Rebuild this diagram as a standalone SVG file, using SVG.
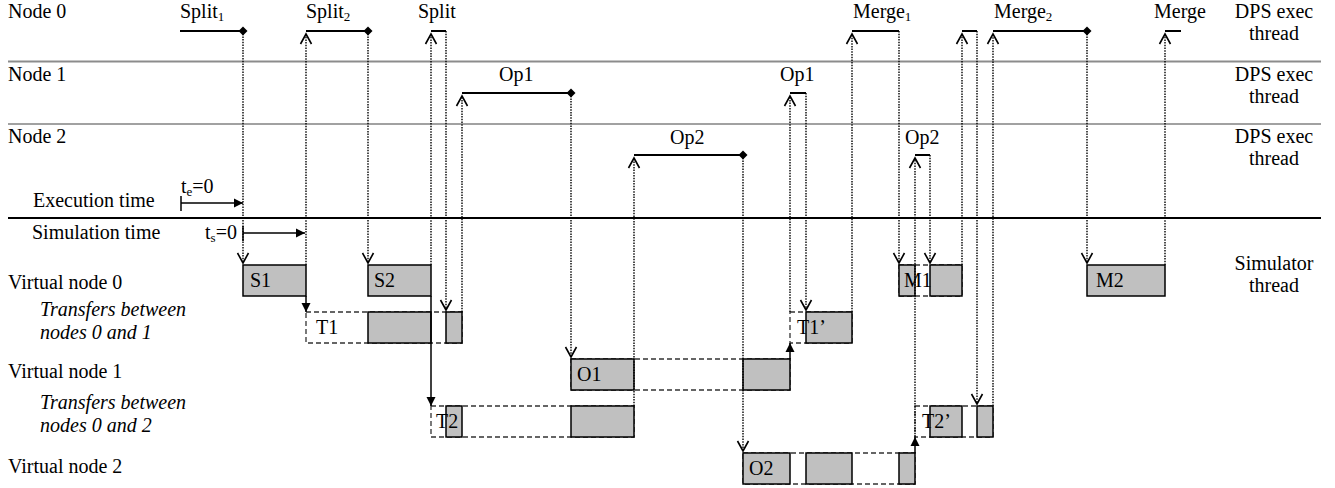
<svg xmlns="http://www.w3.org/2000/svg" width="1335" height="488" viewBox="0 0 1335 488">
<style>
.t{font-family:"Liberation Serif","Times New Roman",serif;font-size:20px;fill:#000}
.it{font-style:italic}
.sub{font-size:13px}
.g{fill:#c0c0c0;stroke:#000;stroke-width:1.5}
.d{fill:none;stroke:#333;stroke-width:1.3;stroke-dasharray:5 3}
.dot{fill:none;stroke:#000;stroke-width:1.4;stroke-dasharray:1.5 1.2}
.ev{stroke:#000;stroke-width:2;fill:none}
.sol{stroke:#000;stroke-width:1.5;fill:none}
</style>
<defs>
<marker id="chev" viewBox="-12 -7 14 14" refX="0" refY="0" markerWidth="14" markerHeight="14" markerUnits="userSpaceOnUse" orient="auto">
<path d="M-10,-5.5 L0,0 L-10,5.5" fill="none" stroke="#000" stroke-width="1.6"/>
</marker>
<marker id="tri" viewBox="-10 -6 12 12" refX="0" refY="0" markerWidth="12" markerHeight="12" markerUnits="userSpaceOnUse" orient="auto">
<path d="M-9,-4.5 L0,0 L-9,4.5 Z" fill="#000"/>
</marker>
<marker id="dia" viewBox="-6 -6 12 12" refX="0" refY="0" markerWidth="12" markerHeight="12" markerUnits="userSpaceOnUse" orient="auto">
<path d="M-4.5,0 L0,-4.5 L4.5,0 L0,4.5 Z" fill="#000"/>
</marker>
</defs>
<rect width="1335" height="488" fill="#fff"/>

<g id="lanes">
<line x1="8" y1="61.5" x2="1321" y2="61.5" stroke="#8c8c8c" stroke-width="2"/>
<line x1="8" y1="124" x2="1321" y2="124" stroke="#444" stroke-width="1.2"/>
<line x1="8" y1="218" x2="1321" y2="218" stroke="#000" stroke-width="2"/>
<text class="t" x="8" y="18">Node 0</text>
<text class="t" x="8" y="81">Node 1</text>
<text class="t" x="8" y="143">Node 2</text>
<text class="t" x="1274" y="18" text-anchor="middle">DPS exec</text>
<text class="t" x="1274" y="40" text-anchor="middle">thread</text>
<text class="t" x="1274" y="81" text-anchor="middle">DPS exec</text>
<text class="t" x="1274" y="103" text-anchor="middle">thread</text>
<text class="t" x="1274" y="143" text-anchor="middle">DPS exec</text>
<text class="t" x="1274" y="165" text-anchor="middle">thread</text>
<text class="t" x="1274" y="270" text-anchor="middle">Simulator</text>
<text class="t" x="1274" y="292" text-anchor="middle">thread</text>
<text class="t" x="33" y="207">Execution time</text>
<text class="t" x="32" y="239">Simulation time</text>
<text class="t" x="8" y="289">Virtual node 0</text>
<text class="t it" x="40" y="316">Transfers between</text>
<text class="t it" x="40" y="339">nodes 0 and 1</text>
<text class="t" x="8" y="378">Virtual node 1</text>
<text class="t it" x="40" y="409">Transfers between</text>
<text class="t it" x="40" y="432">nodes 0 and 2</text>
<text class="t" x="8" y="473">Virtual node 2</text>
</g>

<g id="time-axes">
<line class="sol" x1="181" y1="196" x2="181" y2="211"/>
<line class="sol" x1="181" y1="203" x2="243" y2="203" marker-end="url(#tri)"/>
<text class="t" x="181" y="193">t<tspan class="sub" dy="3">e</tspan><tspan dy="-3">=0</tspan></text>
<line class="sol" x1="243" y1="226" x2="243" y2="241"/>
<line class="sol" x1="243" y1="233" x2="305" y2="233" marker-end="url(#tri)"/>
<text class="t" x="205" y="239">t<tspan class="sub" dy="3">s</tspan><tspan dy="-3">=0</tspan></text>
</g>

<g id="events">
<g id="ev-split1"><line class="ev" x1="180" y1="31" x2="243" y2="31" marker-end="url(#dia)"/><text class="t" x="180" y="18">Split<tspan class="sub" dy="3">1</tspan></text></g>
<g id="ev-split2"><line class="ev" x1="306" y1="31" x2="368" y2="31" marker-end="url(#dia)"/><text class="t" x="306" y="18">Split<tspan class="sub" dy="3">2</tspan></text></g>
<g id="ev-split"><line class="ev" x1="431" y1="31" x2="446" y2="31"/><text class="t" x="418" y="18">Split</text></g>
<g id="ev-op1a"><line class="ev" x1="462" y1="93" x2="571" y2="93" marker-end="url(#dia)"/><text class="t" x="499" y="81">Op1</text></g>
<g id="ev-op2a"><line class="ev" x1="634" y1="155" x2="743" y2="155" marker-end="url(#dia)"/><text class="t" x="670" y="144">Op2</text></g>
<g id="ev-op1b"><line class="ev" x1="790" y1="93" x2="806" y2="93"/><text class="t" x="780" y="81">Op1</text></g>
<g id="ev-merge1"><line class="ev" x1="852" y1="31" x2="899" y2="31"/><text class="t" x="853" y="18">Merge<tspan class="sub" dy="3">1</tspan></text></g>
<g id="ev-op2b"><line class="ev" x1="915" y1="155" x2="930" y2="155"/><text class="t" x="905" y="144">Op2</text></g>
<g id="ev-n0"><line class="ev" x1="962" y1="31" x2="977" y2="31"/></g>
<g id="ev-merge2"><line class="ev" x1="993" y1="31" x2="1087" y2="31" marker-end="url(#dia)"/><text class="t" x="994" y="18">Merge<tspan class="sub" dy="3">2</tspan></text></g>
<g id="ev-merge"><line class="ev" x1="1165" y1="31" x2="1181" y2="31"/><text class="t" x="1154" y="18">Merge</text></g>
</g>

<g id="vn0">
<g id="S1"><rect class="g" x="243" y="265" width="63" height="31"/><text class="t" x="250" y="287">S1</text></g>
<g id="S2"><rect class="g" x="368" y="265" width="63" height="31"/><text class="t" x="374" y="287">S2</text></g>
<g id="M1"><rect class="d" x="899" y="265" width="63" height="31"/><rect class="g" x="899" y="265" width="16" height="31"/><rect class="g" x="930" y="265" width="32" height="31"/><text class="t" x="904" y="287">M1</text></g>
<g id="M2"><rect class="g" x="1087" y="265" width="78" height="31"/><text class="t" x="1096" y="287">M2</text></g>
</g>

<g id="tr01">
<g id="T1"><rect class="d" x="306" y="312" width="156" height="31"/><rect class="g" x="368" y="312" width="63" height="31"/><rect class="g" x="446" y="312" width="16" height="31"/><text class="t" x="316" y="334">T1</text></g>
<g id="T1b"><rect class="d" x="790" y="312" width="62" height="31"/><rect class="g" x="806" y="312" width="46" height="31"/><text class="t" x="797" y="334">T1’</text></g>
</g>

<g id="vn1">
<g id="O1"><rect class="d" x="571" y="359" width="219" height="31"/><rect class="g" x="571" y="359" width="63" height="31"/><rect class="g" x="743" y="359" width="47" height="31"/><text class="t" x="577" y="381">O1</text></g>
</g>

<g id="tr02">
<g id="T2"><rect class="d" x="431" y="406" width="203" height="31"/><rect class="g" x="446" y="406" width="16" height="31"/><rect class="g" x="571" y="406" width="63" height="31"/><text class="t" x="436" y="428">T2</text></g>
<g id="T2b"><rect class="d" x="915" y="406" width="78" height="31"/><rect class="g" x="930" y="406" width="32" height="31"/><rect class="g" x="977" y="406" width="16" height="31"/><text class="t" x="922" y="428">T2’</text></g>
</g>

<g id="vn2">
<g id="O2"><rect class="d" x="743" y="453" width="172" height="31"/><rect class="g" x="743" y="453" width="47" height="31"/><rect class="g" x="806" y="453" width="46" height="31"/><rect class="g" x="899" y="453" width="16" height="31"/><text class="t" x="749" y="475">O2</text></g>
</g>

<g id="connectors">
<line class="dot" x1="243" y1="31" x2="243" y2="263" marker-end="url(#chev)"/>
<line class="dot" x1="368" y1="31" x2="368" y2="263" marker-end="url(#chev)"/>
<line class="dot" x1="446" y1="31" x2="446" y2="310" marker-end="url(#chev)"/>
<line class="dot" x1="571" y1="93" x2="571" y2="357" marker-end="url(#chev)"/>
<line class="dot" x1="743" y1="155" x2="743" y2="451" marker-end="url(#chev)"/>
<line class="dot" x1="806" y1="93" x2="806" y2="310" marker-end="url(#chev)"/>
<line class="dot" x1="899" y1="31" x2="899" y2="263" marker-end="url(#chev)"/>
<line class="dot" x1="930" y1="155" x2="930" y2="263" marker-end="url(#chev)"/>
<line class="dot" x1="977" y1="31" x2="977" y2="404" marker-end="url(#chev)"/>
<line class="dot" x1="1087" y1="31" x2="1087" y2="263" marker-end="url(#chev)"/>

<line class="dot" x1="306" y1="265" x2="306" y2="34" marker-end="url(#chev)"/>
<line class="dot" x1="431" y1="265" x2="431" y2="34" marker-end="url(#chev)"/>
<line class="dot" x1="462" y1="312" x2="462" y2="96" marker-end="url(#chev)"/>
<line class="dot" x1="634" y1="406" x2="634" y2="158" marker-end="url(#chev)"/>
<line class="dot" x1="790" y1="312" x2="790" y2="96" marker-end="url(#chev)"/>
<line class="dot" x1="852" y1="312" x2="852" y2="34" marker-end="url(#chev)"/>
<line class="dot" x1="915" y1="437" x2="915" y2="158" marker-end="url(#chev)"/>
<line class="dot" x1="962" y1="265" x2="962" y2="34" marker-end="url(#chev)"/>
<line class="dot" x1="993" y1="406" x2="993" y2="34" marker-end="url(#chev)"/>
<line class="dot" x1="1165" y1="265" x2="1165" y2="34" marker-end="url(#chev)"/>

<line class="sol" x1="306" y1="296" x2="306" y2="312" marker-end="url(#tri)"/>
<line class="sol" x1="431" y1="296" x2="431" y2="406" marker-end="url(#tri)"/>
<line class="sol" x1="790" y1="359" x2="790" y2="343" marker-end="url(#tri)"/>
<line class="sol" x1="915" y1="453" x2="915" y2="437" marker-end="url(#tri)"/>
</g>
</svg>
